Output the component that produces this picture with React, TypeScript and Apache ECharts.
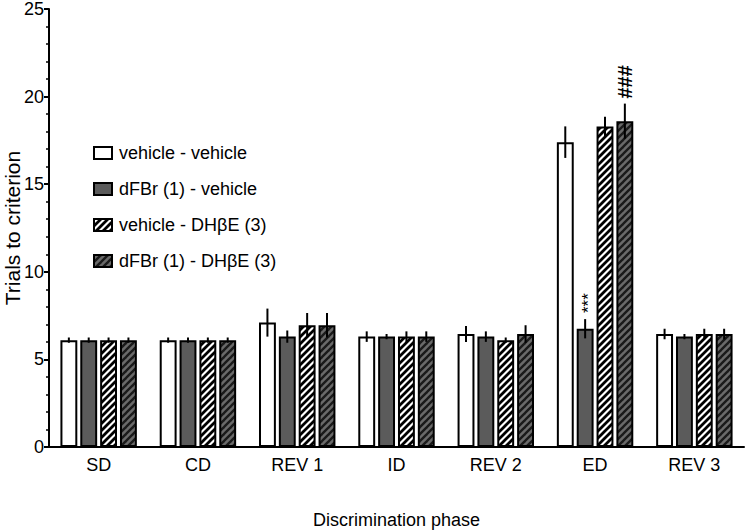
import React, { useEffect, useRef } from "react";
import * as echarts from "echarts";

const categories = ["SD", "CD", "REV 1", "ID", "REV 2", "ED", "REV 3"];
const seriesNames = [
  "vehicle - vehicle",
  "dFBr (1) - vehicle",
  "vehicle - DHβE (3)",
  "dFBr (1) - DHβE (3)",
];
const vehVehMean = [6.1, 6.1, 7.1, 6.3, 6.45, 17.4, 6.45];
const vehVehErr = [0.15, 0.15, 0.8, 0.3, 0.45, 0.9, 0.3];
const dfbrVehMean = [6.1, 6.1, 6.3, 6.3, 6.3, 6.75, 6.3];
const dfbrVehErr = [0.15, 0.15, 0.35, 0.15, 0.3, 0.55, 0.15];
const vehDhbeMean = [6.1, 6.1, 6.95, 6.3, 6.1, 18.3, 6.45];
const vehDhbeErr = [0.15, 0.15, 0.7, 0.3, 0.15, 0.55, 0.3];
const dfbrDhbeMean = [6.1, 6.1, 6.95, 6.3, 6.45, 18.6, 6.45];
const dfbrDhbeErr = [0.15, 0.15, 0.7, 0.3, 0.5, 1.0, 0.3];
// significance marks: [category index, series index, text]
const marks: [number, number, string][] = [
  [5, 1, "***"],
  [5, 3, "###"],
];

const FONT = "'Liberation Sans', Arial, Helvetica, sans-serif";

function stripe(bg: string, fg: string, lw: number) {
  const s = 7;
  const c = document.createElement("canvas");
  c.width = s;
  c.height = s;
  const ctx = c.getContext("2d")!;
  ctx.fillStyle = bg;
  ctx.fillRect(0, 0, s, s);
  ctx.strokeStyle = fg;
  ctx.lineWidth = lw;
  ctx.lineCap = "square";
  for (const o of [-s, 0, s]) {
    ctx.beginPath();
    ctx.moveTo(o, s);
    ctx.lineTo(o + s, 0);
    ctx.stroke();
  }
  return c;
}

export default function App() {
  const ref = useRef<HTMLDivElement>(null);
  useEffect(() => {
    if (!ref.current) return;
    const chart = echarts.init(ref.current, null, { renderer: "svg" });
    const means = [vehVehMean, dfbrVehMean, vehDhbeMean, dfbrDhbeMean];
    const errs = [vehVehErr, dfbrVehErr, vehDhbeErr, dfbrDhbeErr];
    const fills: any[] = [
      "#ffffff",
      "#5b5b5b",
      { image: stripe("#ffffff", "#000000", 2.8), repeat: "repeat" },
      { image: stripe("#6a6a6a", "#1a1a1a", 2.4), repeat: "repeat" },
    ];
    const barSeries = seriesNames.map((name, i) => ({
      name,
      type: "bar",
      data: means[i],
      barWidth: "17%",
      barGap: "17.6%",
      itemStyle: { color: fills[i], borderColor: "#000", borderWidth: 2 },
      z: 2,
    }));
    const errSeries = seriesNames.map((name, i) => ({
      type: "custom",
      z: 3,
      silent: true,
      data: means[i].map((m, k) => [k, m, errs[i][k]]),
      encode: { x: 0, y: 1 },
      renderItem: (params: any, api: any) => {
        const c = api.value(0);
        const m = api.value(1);
        const e = api.value(2);
        const band = api.size([1, 0])[0];
        const off = (i - 1.5) * band * 0.2;
        const top = api.coord([c, m + e]);
        const bot = api.coord([c, m - e]);
        return {
          type: "line",
          shape: { x1: top[0] + off, y1: top[1], x2: bot[0] + off, y2: bot[1] },
          style: { stroke: "#000", lineWidth: 2 },
        };
      },
    }));
    const markSeries = {
      type: "custom",
      z: 4,
      silent: true,
      data: marks.map(([k, si, t]) => [k, means[si][k], errs[si][k], si, t]),
      encode: { x: 0, y: 1 },
      renderItem: (params: any, api: any) => {
        const c = api.value(0);
        const m = api.value(1);
        const e = api.value(2);
        const si = api.value(3);
        const t = marks[params.dataIndex][2];
        const band = api.size([1, 0])[0];
        const off = (si - 1.5) * band * 0.2;
        const top = api.coord([c, m + e]);
        const star = t === "***";
        return {
          type: "text",
          x: top[0] + off + (star ? 3 : 0),
          y: top[1] - (star ? 6 : 5),
          rotation: Math.PI / 2,
          style: {
            text: t,
            align: "left",
            verticalAlign: "middle",
            fill: "#000",
            font: (star ? "17px " : "bold 20px ") + FONT,
          },
        };
      },
    };
    chart.setOption({
      animation: false,
      textStyle: { fontFamily: FONT, color: "#000" },
      grid: { left: 49, right: 6, top: 9, bottom: 84, containLabel: false, outerBoundsMode: "none" },
      legend: {
        data: seriesNames,
        orient: "vertical",
        left: 88,
        top: 139,
        itemWidth: 18,
        itemHeight: 12,
        itemGap: 18,
        icon: "rect",
        textStyle: { fontSize: 18, color: "#000", fontFamily: FONT, padding: [0, 0, 0, 2] },
      },
      xAxis: {
        type: "category",
        data: categories,
        name: "Discrimination phase",
        nameLocation: "middle",
        nameGap: 64,
        nameMoveOverlap: false,
        nameTextStyle: { fontSize: 18, color: "#000", fontFamily: FONT },
        axisLine: { lineStyle: { color: "#000", width: 2 } },
        axisTick: { alignWithLabel: true, length: 5, lineStyle: { color: "#000", width: 2 } },
        axisLabel: { fontSize: 18, color: "#000", margin: 9, fontFamily: FONT },
      },
      yAxis: {
        type: "value",
        min: 0,
        max: 25,
        interval: 5,
        name: "Trials to criterion",
        nameLocation: "middle",
        nameGap: 26,
        nameMoveOverlap: false,
        nameTextStyle: { fontSize: 21, color: "#000", fontFamily: FONT },
        axisLine: { show: true, lineStyle: { color: "#000", width: 2 } },
        axisTick: { show: true, length: 5, lineStyle: { color: "#000", width: 2 } },
        minorTick: { show: true, splitNumber: 5, length: 3, lineStyle: { color: "#000", width: 1.5 } },
        splitLine: { show: false },
        axisLabel: { fontSize: 18, color: "#000", margin: 5, fontFamily: FONT },
      },
      series: [...barSeries, ...errSeries, markSeries],
    });
    return () => chart.dispose();
  }, []);
  return (
    <div
      ref={ref}
      style={{ position: "fixed", left: 0, top: 0, width: 750, height: 531, background: "#fff" }}
    />
  );
}
